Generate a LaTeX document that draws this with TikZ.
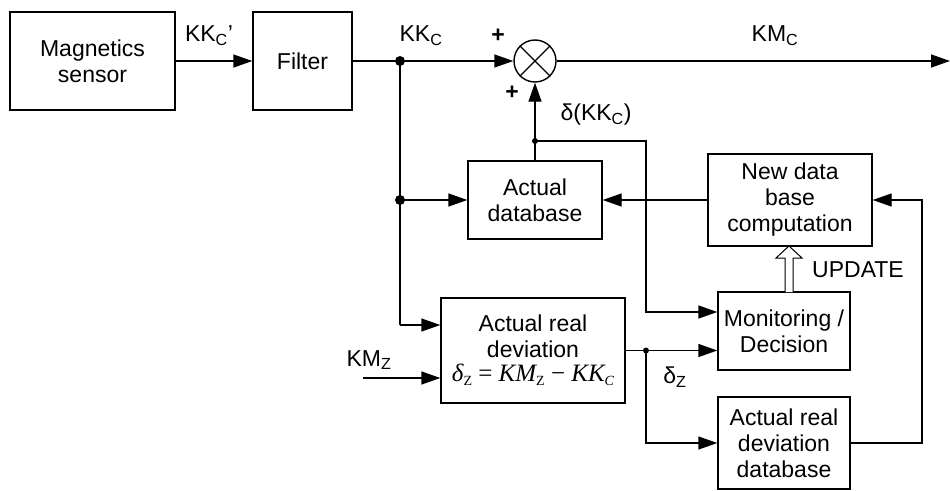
\documentclass[tikz,border=0pt]{standalone}
\usepackage{fontspec}
\setmainfont{Liberation Sans}
\newfontfamily\tms{Liberation Serif}
\usetikzlibrary{arrows.meta}
\newcommand{\sbs}[1]{\textsubscript{#1}}
\newcommand{\msub}[1]{\raisebox{-0.35ex}{\fontsize{14}{14}\selectfont #1}}
\begin{document}
\begin{tikzpicture}[x=1pt,y=-1pt,
  every node/.style={font=\fontsize{23}{26}\selectfont},
  blk/.style={draw,line width=1.4pt,align=center,inner sep=0pt},
  ln/.style={line width=1.4pt},
  arr/.style={line width=1.4pt,-{Triangle[length=19pt,width=13pt]}},
  dot/.style={circle,fill,inner sep=0pt,minimum size=10pt},
  lbl/.style={inner sep=0pt}]
\useasboundingbox (0,0) rectangle (950,490);
% blocks
\node[blk,minimum width=165pt,minimum height=98pt] (ms) at (92.5,61) {Magnetics\\sensor};
\node[blk,minimum width=99pt,minimum height=98pt] (fl) at (302.5,61) {Filter};
\node[draw,circle,line width=1.4pt,minimum size=42pt,inner sep=0pt] (sum) at (535,61) {};
\draw[ln] (sum.north west) -- (sum.south east) (sum.north east) -- (sum.south west);
\node[blk,minimum width=134pt,minimum height=78pt] (ad) at (535,200) {Actual\\database};
\node[blk,minimum width=164pt,minimum height=92pt] (nd) at (790,200) {New data\\base\\computation};
\node[blk,minimum width=132pt,minimum height=78pt] (mon) at (784,331) {Monitoring /\\Decision};
\node[blk,minimum width=184pt,minimum height=105pt] (ard) at (533,350.5) {Actual real\\deviation\\[-2pt]{\tms\fontsize{25}{26}\selectfont\itshape δ\msub{\upshape Z}\upshape\ =\ \itshape KM\msub{\upshape Z}\upshape\ −\ \itshape KK\msub{C}}};
\node[blk,minimum width=132pt,minimum height=92pt] (dev) at (784,443) {Actual real\\deviation\\database};
% junctions
\coordinate (j1) at (400,61);
\coordinate (j2) at (400,200);
\coordinate (d2) at (535,141);
\coordinate (d3) at (646,350.5);
\coordinate (out) at (950,61);
\coordinate (kmz) at (363,378);
\node[dot] at (j1) {};
\node[dot] at (j2) {};
\node[dot,minimum size=6pt] at (d2) {};
\node[dot,minimum size=6pt] at (d3) {};
% connectors
\draw[arr] (ms.east) -- (fl.west);
\draw[arr] (fl.east) -- (sum.west);
\draw[arr] (sum.east) -- (out);
\draw[arr] (ad.north) -- (sum.south);
\draw[ln] (j1) -- (400,325);
\draw[arr] (400,325) -- (ard.west |- 0,325);
\draw[arr] (j2) -- (ad.west);
\draw[arr] (nd.west) -- (ad.east);
\draw[arr] (d2) -- (646,141) -- (646,312) -- (mon.west |- 0,312);
\draw[arr] (ard.east) -- (mon.west |- d3);
\draw[arr] (d3) -- (646,443) -- (dev.west);
\draw[arr] (dev.east) -- (922,443) -- (922,200) -- (nd.east);
\draw[arr] (kmz) -- (ard.west |- kmz);
% hollow UPDATE arrow
\draw[line width=1pt,fill=white] (785,292) -- (785,258) -- (776,258) -- (789,246) -- (802,258) -- (793,258) -- (793,292);
% labels
\node[lbl] at (209,36) {KK\sbs{C}’};
\node[lbl] at (421,36) {KK\sbs{C}};
\node[lbl] at (775,36) {KM\sbs{C}};
\node[lbl,font=\fontsize{23}{26}\bfseries] at (498,36) {+};
\node[lbl,font=\fontsize{23}{26}\bfseries] at (512,93) {+};
\node[lbl] at (596,115) {δ(KK\sbs{C})};
\node[lbl,anchor=west] at (812,270) {UPDATE};
\node[lbl] at (369,360) {KM\sbs{Z}};
\node[lbl] at (675,377) {δ\sbs{Z}};
\end{tikzpicture}
\end{document}
